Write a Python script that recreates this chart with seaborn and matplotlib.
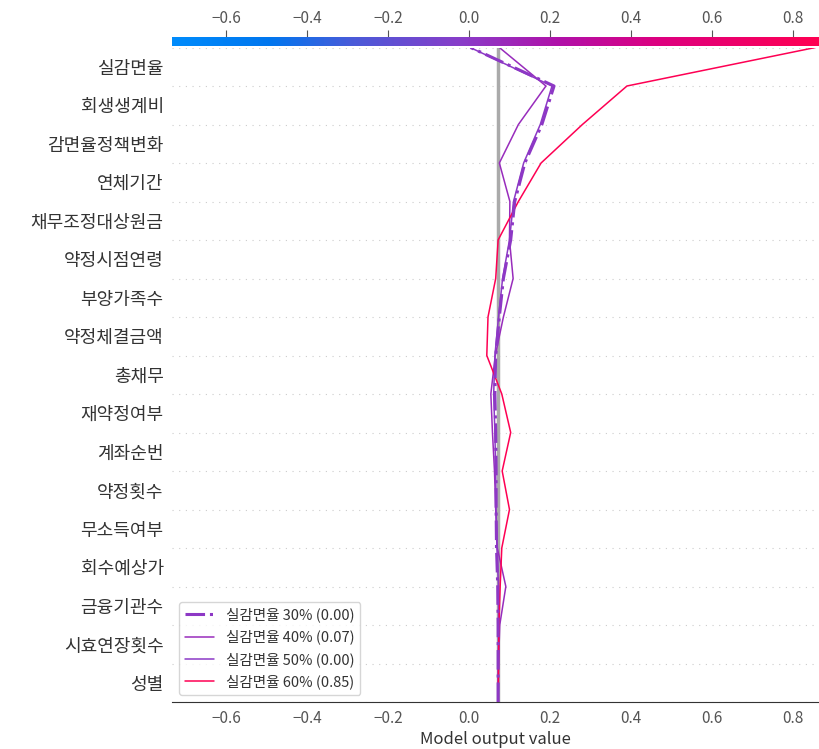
import numpy as np
import pandas as pd
import seaborn as sns
import matplotlib
matplotlib.use("Agg")
import matplotlib.pyplot as plt
from matplotlib.colors import LinearSegmentedColormap, Normalize
from matplotlib.cm import ScalarMappable

# features, top to bottom
features = ["실감면율", "회생생계비", "감면율정책변화", "연체기간", "채무조정대상원금",
            "약정시점연령", "부양가족수", "약정체결금액", "총채무", "재약정여부",
            "계좌순번", "약정횟수", "무소득여부", "회수예상가", "금융기관수",
            "시효연장횟수", "성별"]

base_value = 0.072

# cumulative model output at each grid level, bottom (base) -> top (prediction)
out_30 = [0.072, 0.072, 0.072, 0.071, 0.068, 0.067, 0.067, 0.066, 0.064,
          0.066, 0.075, 0.085, 0.103, 0.113, 0.138, 0.180, 0.210, 0.004]
out_40 = [0.072, 0.073, 0.076, 0.091, 0.070, 0.066, 0.063, 0.058, 0.054,
          0.065, 0.085, 0.109, 0.100, 0.101, 0.075, 0.122, 0.190, 0.075]
out_50 = [0.072, 0.072, 0.073, 0.073, 0.069, 0.067, 0.066, 0.064, 0.061,
          0.064, 0.073, 0.083, 0.100, 0.110, 0.135, 0.176, 0.205, 0.003]
out_60 = [0.072, 0.073, 0.074, 0.077, 0.081, 0.100, 0.082, 0.103, 0.081,
          0.044, 0.047, 0.066, 0.072, 0.122, 0.178, 0.280, 0.390, 0.855]

labels = ["실감면율 30% (0.00)", "실감면율 40% (0.07)",
          "실감면율 50% (0.00)", "실감면율 60% (0.85)"]
series = [out_30, out_40, out_50, out_60]

xmin, xmax = -0.733, 0.864
xticks = [-0.6, -0.4, -0.2, 0.0, 0.2, 0.4, 0.6, 0.8]

cmap = LinearSegmentedColormap.from_list(
    "red_blue",
    [(0.0, "#008bfb"), (0.15, "#0076ee"), (0.28, "#4a5ad8"), (0.45, "#8a3cc8"),
     (0.6, "#b010a8"), (0.75, "#dc0080"), (1.0, "#ff0052")])
norm = Normalize(xmin, xmax)

sns.set_style("white")
plt.rcParams["font.family"] = ["Noto Sans CJK KR", "DejaVu Sans"]

fig = plt.figure(figsize=(8.19, 7.49), dpi=100)
ax = fig.add_axes([172 / 819, 1 - 702 / 749, 1 - 172 / 819, (702 - 47.5) / 749])

n = len(features)
levels = np.arange(n + 1)

for i in range(n + 1):
    ax.axhline(i, color="#cccccc", lw=0.8, dashes=(1, 5), zorder=0)

ax.axvline(base_value, color="#aaaaaa", lw=2.5, zorder=1)

for vals, lab in zip(series, labels):
    df = pd.DataFrame({"value": vals, "level": levels})
    color = cmap(norm(vals[-1]))
    if lab.startswith("실감면율 30%"):
        sns.lineplot(data=df, x="value", y="level", orient="y", estimator=None,
                     ax=ax, color=color, lw=2.2, linestyle="-.", label=lab, zorder=3)
    else:
        sns.lineplot(data=df, x="value", y="level", orient="y", estimator=None,
                     ax=ax, color=color, lw=1.1, label=lab, zorder=2)

ax.set_xlim(xmin, xmax)
ax.set_ylim(0, n)
ax.set_yticks(np.arange(n) + 0.5)
ax.set_yticklabels(features[::-1], fontsize=13, color="#333333")
ax.set_xticks(xticks)
ax.set_xticklabels([f"{t:.1f}".replace("-", "\u2212") for t in xticks],
                   fontsize=11, color="#555555")
ax.tick_params(axis="y", length=0, pad=6)
ax.tick_params(axis="x", length=4, color="#555555", pad=2)
ax.set_xlabel("Model output value", fontsize=12, color="#333333", labelpad=3)
ax.set_ylabel("")
for s in ["top", "left", "right"]:
    ax.spines[s].set_visible(False)
ax.spines["bottom"].set_color("#333333")

leg = ax.legend(loc="lower left", fontsize=10.5, frameon=True)
leg.get_frame().set_edgecolor("#cccccc")
for t in leg.get_texts():
    t.set_color("#333333")

# colorbar on top
cax = fig.add_axes([172 / 819, 1 - 46 / 749, 1 - 172 / 819, 9 / 749])
cb = fig.colorbar(ScalarMappable(norm=norm, cmap=cmap), cax=cax, orientation="horizontal")
cb.outline.set_visible(False)
cb.set_ticks(xticks)
cax.xaxis.set_ticks_position("top")
cax.xaxis.set_label_position("top")
cax.set_xticklabels([f"{t:.1f}".replace("-", "\u2212") for t in xticks],
                    fontsize=11, color="#555555")
cax.tick_params(axis="x", length=5, color="#555555", pad=2)

fig.savefig("out.png", dpi=100)
